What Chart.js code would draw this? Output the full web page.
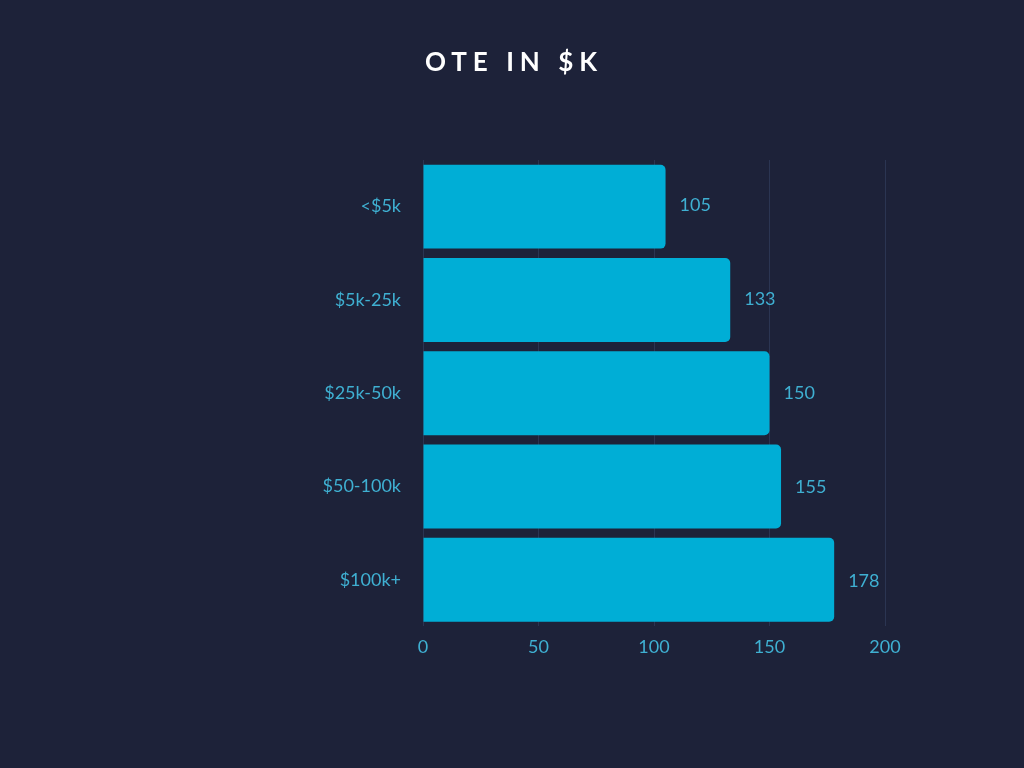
<!DOCTYPE html>
<html><head><meta charset="utf-8">
<script src="https://cdn.jsdelivr.net/npm/chart.js@4"></script>
<style>html,body{margin:0;background:#1d2239;}#w{width:1024px;height:768px;}</style>
</head><body><div id="w"><canvas id="c"></canvas></div>
<script>
const categories = ["<$5k","$5k-25k","$25k-50k","$50-100k","$100k+"];
const values = [105,133,150,155,178];
const xTicks = [0,50,100,150,200];
const titleText = "OTE IN $K";

const labelPlugin = {
  id:'lbl',
  afterDatasetsDraw(chart){
    const ctx=chart.ctx, meta=chart.getDatasetMeta(0);
    ctx.save();
    ctx.fillStyle='#3fb0d2'; ctx.font='18px Lato'; ctx.textAlign='left'; ctx.textBaseline='middle';
    meta.data.forEach((b,i)=>{ctx.fillText(String(values[i]), b.x+14, b.y+(i-2)*0.8);});
    ctx.fillStyle='#ffffff'; ctx.font='bold 26px Lato'; ctx.textAlign='center';
    if('letterSpacing' in ctx) ctx.letterSpacing='6px';
    ctx.fillText(titleText, 514, 63);
    ctx.restore();
  }
};
new Chart(document.getElementById('c'),{
  type:'bar',
  data:{labels:categories,datasets:[{data:values,backgroundColor:'#00aed6',borderRadius:5,borderSkipped:'start',barPercentage:0.9,categoryPercentage:1}]},
  options:{
    indexAxis:'y',responsive:true,maintainAspectRatio:false,animation:false,
    layout:{padding:{left:0,right:139,top:160,bottom:100}},
    plugins:{legend:{display:false},tooltip:{enabled:false}},
    scales:{
      x:{min:0,max:200,afterBuildTicks(s){s.ticks=xTicks.map(v=>({value:v}));},
        grid:{color:'#2b3552',drawTicks:false},border:{display:false},
        ticks:{color:'#3fb0d2',font:{family:'Lato',size:18},padding:10}},
      y:{grid:{display:false},border:{display:false},
        afterFit(s){s.width=423;},
        ticks:{color:'#3fb0d2',font:{family:'Lato',size:18},padding:14}}
    }
  },
  plugins:[labelPlugin]
});
</script></body></html>
